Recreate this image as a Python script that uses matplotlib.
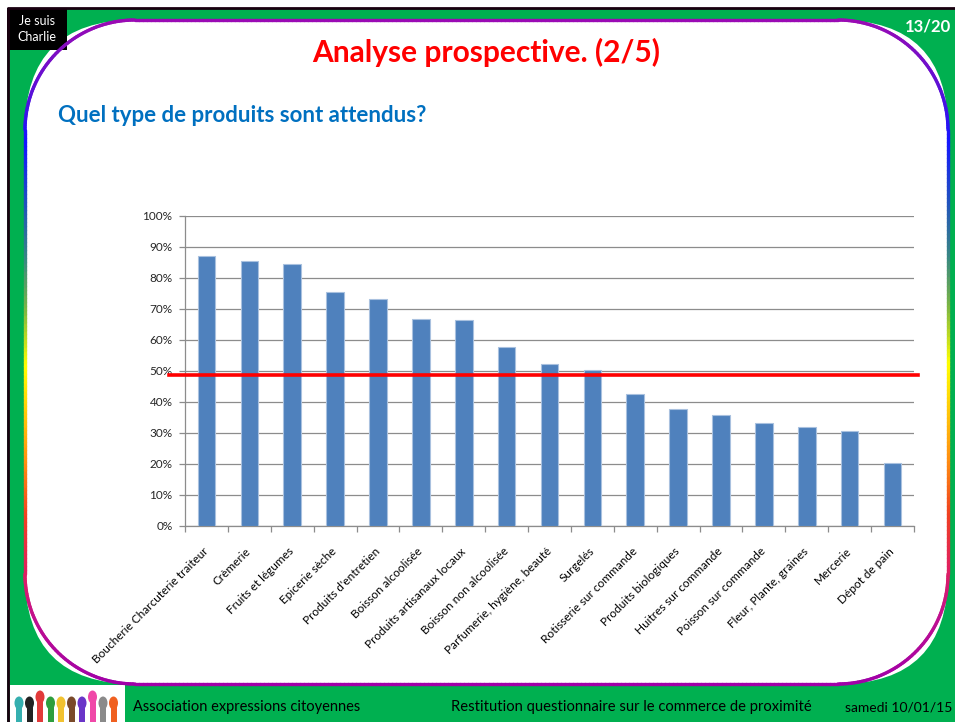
import numpy as np
import matplotlib
matplotlib.use("Agg")
import matplotlib.pyplot as plt
from matplotlib.patches import Rectangle, FancyBboxPatch, Ellipse
from matplotlib.collections import LineCollection
from matplotlib.colors import LinearSegmentedColormap

plt.rcParams['font.family'] = ['Lato', 'DejaVu Sans']

# --- data ---
categories = ["Boucherie Charcuterie traiteur", "Crèmerie", "Fruits et légumes",
              "Epicerie sèche", "Produits d'entretien", "Boisson alcoolisée",
              "Produits artisanaux locaux", "Boisson non alcoolisée",
              "Parfumerie, hygiène, beauté", "Surgelés", "Rotisserie sur commande",
              "Produits biologiques", "Huitres sur commande", "Poisson sur commande",
              "Fleur, Plante, graines", "Mercerie", "Dépot de pain"]
values = [0.871, 0.854, 0.845, 0.754, 0.732, 0.668, 0.663, 0.578, 0.522, 0.503,
          0.426, 0.378, 0.357, 0.331, 0.318, 0.305, 0.202]
threshold = 0.487
yticks = [0, 0.1, 0.2, 0.3, 0.4, 0.5, 0.6, 0.7, 0.8, 0.9, 1.0]
ytick_labels = ["0%", "10%", "20%", "30%", "40%", "50%", "60%", "70%", "80%", "90%", "100%"]

W, H = 955, 722
fig = plt.figure(figsize=(W / 100, H / 100), dpi=100)
fig.patch.set_facecolor('white')

# background layer in pixel coordinates
bg = fig.add_axes([0, 0, 1, 1])
bg.set_xlim(0, W)
bg.set_ylim(H, 0)
bg.axis('off')

green = '#00B050'
bg.add_patch(Rectangle((7, 8), W - 7, H - 8, facecolor=green, edgecolor='none'))
bg.plot([7, W], [8, 8], color='#1a0010', lw=2, solid_capstyle='butt')
bg.plot([7.5, 7.5], [8, H], color='#1a0010', lw=2, solid_capstyle='butt')

# white rounded panel
x0, x1, y0, y1, r = 25, 948, 20, 684, 110
bg.add_patch(FancyBboxPatch((x0, y0), x1 - x0, y1 - y0,
                            boxstyle=f"round,pad=0,rounding_size={r}",
                            facecolor='white', edgecolor='none'))

# gradient outline of the panel (colour follows height)
def arc(cx, cy, a0, a1):
    t = np.radians(np.linspace(a0, a1, 40))
    return np.c_[cx + r * np.cos(t), cy + r * np.sin(t)]

outline = np.vstack([
    arc(x0 + r, y0 + r, 180, 270),
    arc(x1 - r, y0 + r, 270, 360),
    arc(x1 - r, y1 - r, 0, 90),
    arc(x0 + r, y1 - r, 90, 180),
])
outline = np.vstack([outline, outline[:1]])
# add points on straight sides so the colour changes smoothly
pts = []
for a, b in zip(outline[:-1], outline[1:]):
    n = max(2, int(np.hypot(*(b - a)) / 4))
    pts.append(np.linspace(a, b, n, endpoint=False))
pts = np.vstack(pts + [outline[-1:]])
segs = np.stack([pts[:-1], pts[1:]], axis=1)
ymid = (segs[:, 0, 1] + segs[:, 1, 1]) / 2

stops = [(20, '#9A0AB4'), (90, '#5A10D8'), (140, '#1515FF'), (200, '#2050C0'),
         (260, '#3A8A80'), (310, '#80B840'), (365, '#FFFF00'), (460, '#FF9010'),
         (515, '#F04020'), (570, '#E02060'), (620, '#C01090'), (684, '#A000A8')]
border_cmap = LinearSegmentedColormap.from_list(
    'border', [((s - 20) / (684 - 20), c) for s, c in stops])
lc = LineCollection(segs, colors=border_cmap((ymid - 20) / (684 - 20)), linewidths=2.4,
                    capstyle='round')
bg.add_collection(lc)

# header
bg.add_patch(Rectangle((7, 8), 60, 42, facecolor='black', edgecolor='none'))
bg.text(37, 21, "Je suis", color='white', fontsize=9, ha='center', va='center')
bg.text(37, 37, "Charlie", color='white', fontsize=9, ha='center', va='center')
bg.text(951, 27, "13/20", color='white', fontsize=12, fontweight='bold', ha='right', va='center')
bg.text(486, 52, "Analyse prospective. (2/5)", color='#FF0000', fontsize=21.5,
        fontweight='bold', ha='center', va='center')
bg.text(58, 116, "Quel type de produits sont attendus?", color='#0070C0', fontsize=16,
        fontweight='bold', ha='left', va='center')

# footer
bg.add_patch(Rectangle((10, 685), 115, 37, facecolor='white', edgecolor='none'))
hand_colors = ['#35AFAF', '#222222', '#E23A3A', '#2E9E3E', '#F2C230',
               '#7A4A2A', '#6A35C8', '#F048A8', '#8A8A8A', '#F06020']
for i, c in enumerate(hand_colors):
    hx = 19 + i * 10.5
    hy = 703 - (6 if i in (2, 7) else 0)
    bg.add_patch(Rectangle((hx - 3, hy + 4), 6, 22, facecolor=c, edgecolor='none'))
    bg.add_patch(Ellipse((hx, hy), 9, 13, facecolor=c, edgecolor='none'))
bg.text(133, 707, "Association expressions citoyennes", fontsize=10.5, ha='left', va='center')
bg.text(451, 707, "Restitution questionnaire sur le commerce de proximité", fontsize=10.6,
        ha='left', va='center')
bg.text(952, 707, "samedi 10/01/15", fontsize=10, ha='right', va='center')

# --- bar chart ---
ax = fig.add_axes([185 / W, 1 - 526 / H, (914 - 185) / W, (526 - 215.7) / H])
ax.set_facecolor('none')
x = np.arange(len(categories))
ax.bar(x, values, width=0.41, color='#4F81BD', edgecolor='#A9C1DF', linewidth=0.8, zorder=3)
ax.plot([-0.87, len(categories) - 0.41], [threshold, threshold], color='#FF0000', lw=2.6,
        zorder=4, clip_on=False)

ax.set_xlim(-0.5, len(categories) - 0.5)
ax.set_ylim(0, 1)
ax.set_yticks(yticks)
ax.set_yticklabels(ytick_labels)
ax.yaxis.grid(True, color='#8C8C8C', linewidth=0.9)
ax.set_axisbelow(True)
for s in ['top', 'right']:
    ax.spines[s].set_visible(False)
for s in ['left', 'bottom']:
    ax.spines[s].set_color('#8C8C8C')
    ax.spines[s].set_linewidth(0.9)

ax.set_xticks(x)
ax.set_xticklabels(categories, rotation=45, ha='right', rotation_mode='anchor', va='center')
ax.set_xticks(np.arange(-0.5, len(categories), 1), minor=True)
ax.tick_params(axis='x', which='major', length=0, pad=17, labelsize=8.5, labelcolor='black')
ax.tick_params(axis='x', which='minor', length=4, color='#8C8C8C', width=0.9)
ax.tick_params(axis='y', length=4, color='#8C8C8C', width=0.9, labelsize=8.5,
               labelcolor='#262626', pad=5)

fig.savefig('out.png', dpi=100)
